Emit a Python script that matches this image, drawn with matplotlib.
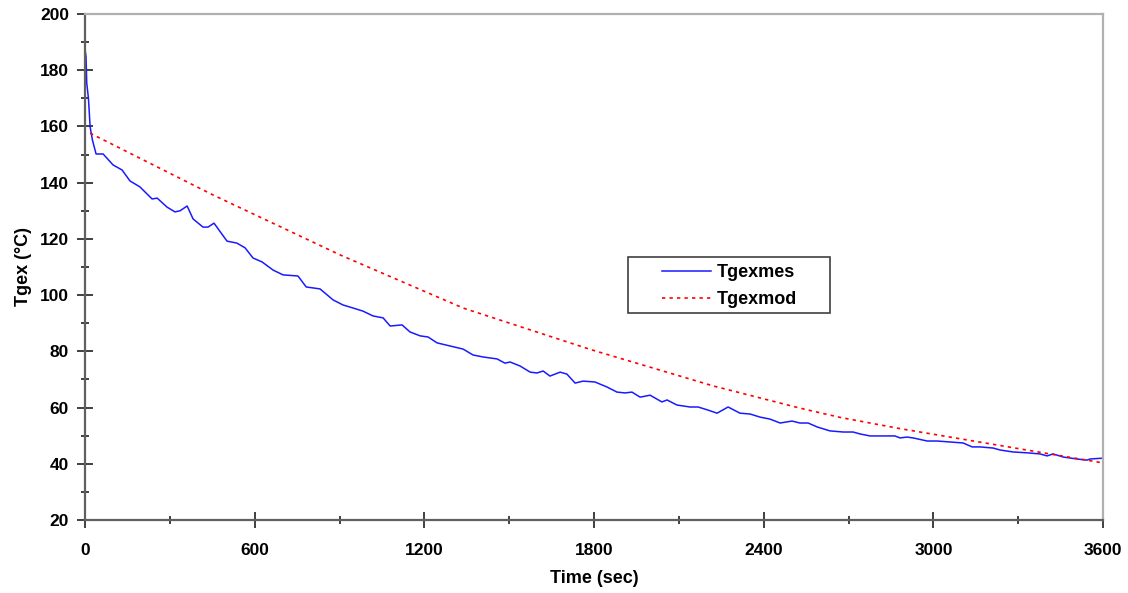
import matplotlib
matplotlib.use("Agg")
import matplotlib.pyplot as plt
from matplotlib.ticker import MultipleLocator
from matplotlib.patches import Rectangle

plt.rcParams['font.family'] = ['Liberation Sans', 'DejaVu Sans']
plt.rcParams['font.weight'] = 'bold'

# measured exhaust gas temperature (s, degC)
t_mes = [0, 3.5, 6, 12, 18, 26, 39, 64, 99, 131, 159, 194, 237, 255, 290, 318,
         336, 361, 382, 417, 435, 456, 502, 537, 566, 594, 626, 665, 700, 753,
         782, 831, 877, 912, 948, 983, 1018, 1054, 1079, 1121, 1149, 1185, 1213,
         1245, 1291, 1337, 1372, 1407, 1457, 1485, 1503, 1538, 1574, 1598, 1620,
         1644, 1680, 1704, 1733, 1761, 1803, 1846, 1881, 1910, 1934, 1963, 1998,
         2040, 2058, 2093, 2139, 2168, 2203, 2235, 2274, 2316, 2352, 2387, 2422,
         2458, 2500, 2528, 2557, 2589, 2634, 2681, 2716, 2741, 2776, 2864, 2882,
         2907, 2928, 2978, 3013, 3105, 3137, 3165, 3211, 3236, 3282, 3331, 3377,
         3402, 3423, 3459, 3508, 3543, 3554, 3600]
T_mes = [187.5, 184.7, 175.4, 170.0, 159.8, 155.2, 150.2, 150.2, 146.3, 144.5,
         140.6, 138.5, 134.2, 134.5, 131.3, 129.6, 130.0, 131.7, 127.1, 124.2,
         124.2, 125.6, 119.2, 118.5, 116.8, 113.2, 111.8, 108.9, 107.2, 106.8,
         102.9, 102.2, 98.3, 96.5, 95.4, 94.3, 92.6, 91.9, 89.0, 89.4, 86.9, 85.5,
         85.1, 83.0, 81.9, 80.8, 78.7, 78.0, 77.3, 75.8, 76.2, 74.8, 72.6, 72.3,
         73.0, 71.2, 72.6, 71.9, 68.7, 69.4, 69.1, 67.3, 65.5, 65.2, 65.5, 63.7,
         64.4, 62.0, 62.7, 60.9, 60.2, 60.2, 59.1, 58.0, 60.2, 58.0, 57.7, 56.6,
         55.9, 54.5, 55.2, 54.5, 54.5, 53.1, 51.7, 51.3, 51.3, 50.6, 49.9, 49.9,
         49.2, 49.5, 49.2, 48.1, 48.1, 47.4, 46.0, 46.0, 45.6, 44.9, 44.2, 43.9,
         43.5, 42.8, 43.5, 42.4, 41.7, 41.3, 41.7, 42.0]

# model prediction
t_mod = [18, 453, 902, 1337, 1786, 2221, 2528, 2670, 2882, 3236, 3600]
T_mod = [157.6, 135.6, 114.3, 95.4, 80.7, 67.7, 59.8, 56.5, 52.5, 46.5, 40.3]

fig = plt.figure(figsize=(11.28, 5.93), dpi=100)
ax = fig.add_axes([0.0754, 0.1231, 0.9025, 0.8533])

ax.plot(t_mes, T_mes, color='#1a1aff', lw=1.1, label='Tgexmes')
ax.plot(t_mod, T_mod, color='#ff0000', lw=1.2, linestyle=(0, (2, 2.5)),
        label='Tgexmod')

ax.set_xlim(0, 3600)
ax.set_ylim(20, 200)
ax.xaxis.set_major_locator(MultipleLocator(600))
ax.xaxis.set_minor_locator(MultipleLocator(300))
ax.yaxis.set_major_locator(MultipleLocator(20))
ax.yaxis.set_minor_locator(MultipleLocator(10))

ax.tick_params(which='major', direction='inout', length=11, width=1.2,
               color='#202020', labelsize=12.5)
ax.tick_params(which='minor', direction='inout', length=6, width=1.2,
               color='#202020')
ax.tick_params(axis='x', which='major', pad=11)
ax.tick_params(axis='y', which='major', pad=6)

for s in ['left', 'bottom']:
    ax.spines[s].set_color('#606060')
    ax.spines[s].set_linewidth(1.6)
for s in ['top', 'right']:
    ax.spines[s].set_color('#b0b0b0')
    ax.spines[s].set_linewidth(1.6)

ax.set_xlabel('Time (sec)', fontsize=13, fontweight='bold', labelpad=9)
ax.set_ylabel('Tgex (°C)', fontsize=13, fontweight='bold', labelpad=6)

# legend box drawn separately so it can be wider than its contents
ax.add_patch(Rectangle((0.5334, 0.4091), 0.1984, 0.1107, transform=ax.transAxes,
                       facecolor='white', edgecolor='#404040', lw=1.2, zorder=4))
leg = ax.legend(loc='upper left', bbox_to_anchor=(0.5668, 0.505), fontsize=13,
                handlelength=2.7, handletextpad=0.35, labelspacing=0.55,
                borderpad=0, borderaxespad=0, frameon=False)
leg.set_zorder(5)

fig.savefig('out.png', dpi=100)
